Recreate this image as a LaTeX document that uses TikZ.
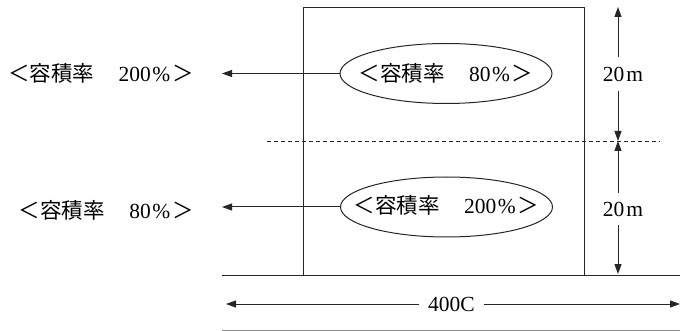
\documentclass[tikz,border=0pt]{standalone}
\usepackage{fontspec}
\setmainfont{Liberation Serif}
\newfontfamily\cjk{Noto Sans CJK JP}
\usetikzlibrary{arrows.meta,shapes.geometric}
\newcommand\yrate[1]{{\cjk ＜容積率　}\hspace{3pt}#1\hspace{1.5pt}\%\hspace{2pt}{\cjk ＞}}
\begin{document}
\begin{tikzpicture}[x=1pt,y=-1pt,
  ln/.style={draw=black!85,line width=1pt},
  arr/.style={ln,-{Triangle[length=10pt,width=7pt]}},
  lab/.style={font=\fontsize{21.5}{24}\selectfont,inner sep=0pt},
  oval/.style={ellipse,ln,minimum width=212pt,minimum height=60pt,inner sep=0pt}
]
\useasboundingbox (0,0) rectangle (680,331);
% building
\node[ln,minimum width=281pt,minimum height=268pt,anchor=north west,inner sep=0pt] (bld) at (303,7) {};
% ground and bottom lines
\draw[ln] (222,275) -- (680,275);
\draw[draw=black!45,line width=1pt] (222,330) -- (680,330);
% dashed boundary
\draw[draw=black!85,line width=0.8pt,dash pattern=on 4pt off 3pt] (267,141) -- (660,141);
% ellipses
\node[oval] (e1) at (446,73.5) {};
\node[lab] (t1) at (e1.center) {\yrate{80}};
\node[oval] (e2) at (446.5,207) {};
\node[lab] (t2) at ([yshift=2pt]e2.center) {\yrate{200}};
% left labels
\node[lab,anchor=east] (l1) at (194,73) {\yrate{200}};
\node[lab,anchor=east] (l2) at (194,210) {\yrate{80}};
\coordinate (a1) at (222,73.5);
\coordinate (a2) at (222,207);
\draw[arr] (e1.west) -- (a1);
\draw[arr] (e2.west) -- (a2);
% vertical dimension
\coordinate (vt) at (618,7);
\coordinate (vm) at (618,141);
\coordinate (vb) at (618,274);
\node[lab,minimum height=33pt] (d1) at (623,74) {20\hspace{2pt}m};
\node[lab,minimum height=32pt] (d2) at (623,209) {20\hspace{2pt}m};
\draw[arr] (d1.north -| vt) -- (vt);
\draw[arr] (d1.south -| vt) -- (vm);
\draw[arr] (d2.north -| vt) -- (vm);
\draw[arr] (d2.south -| vt) -- (vb);
% horizontal dimension
\coordinate (hl) at (226,304);
\coordinate (hr) at (680,304);
\node[lab,minimum width=65pt] (w) at (451.5,304) {400C};
\draw[arr] (w.west) -- (hl);
\draw[arr] (w.east) -- (hr);
\end{tikzpicture}
\end{document}
